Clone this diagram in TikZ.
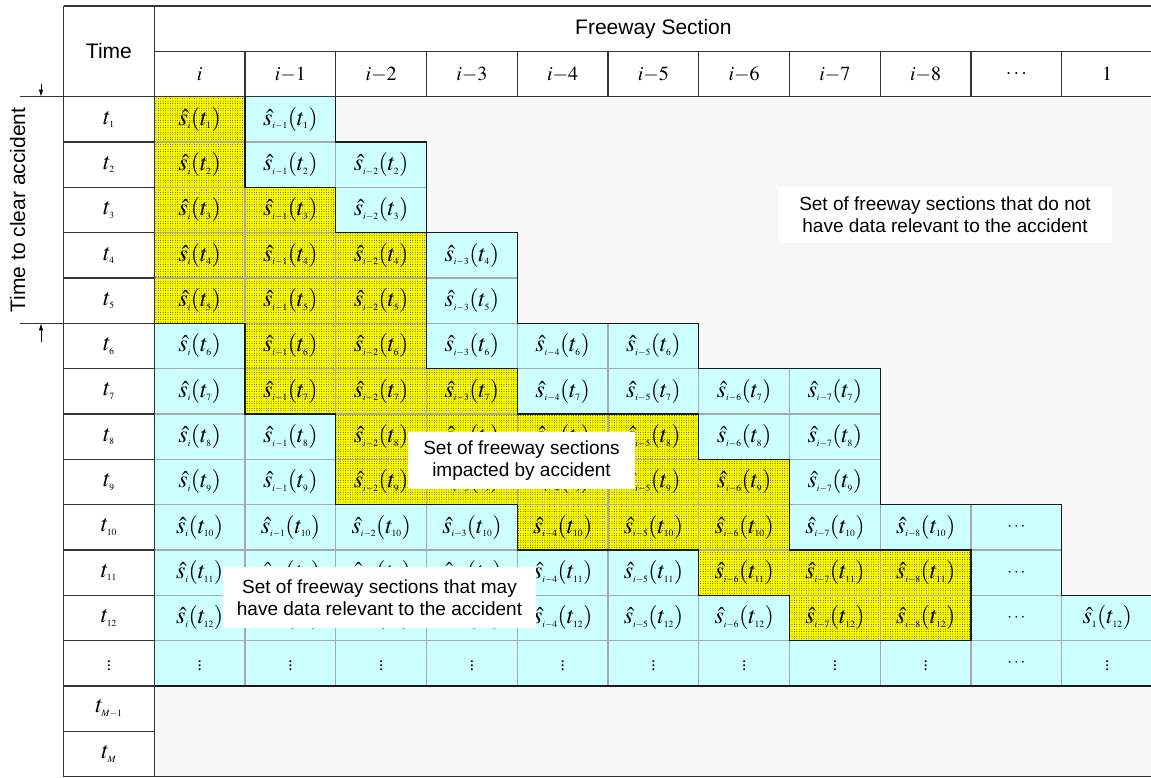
\documentclass[tikz,border=0pt]{standalone}
\usepackage{mathptmx}
\usepackage[no-math]{fontspec}
\setmainfont{Liberation Serif}
\newfontfamily\lsans{Liberation Sans}
\usetikzlibrary{patterns,arrows.meta}
\DeclareMathSizes{24}{24}{9.5}{7}
\DeclareMathSizes{20}{20}{14}{10}
\definecolor{cyanc}{HTML}{CCFFFF}
\definecolor{bgg}{HTML}{F7F7F7}
\definecolor{gridg}{HTML}{A8A8A8}
\definecolor{yel}{HTML}{FFFF00}
\pgfdeclarepatternformonly{fdots}{\pgfqpoint{-1pt}{-1pt}}{\pgfqpoint{1pt}{1pt}}{\pgfqpoint{2.4pt}{2.4pt}}{\pgfpathcircle{\pgfqpoint{0pt}{0pt}}{.42pt}\pgfusepath{fill}}
\newcommand\smalldots[1]{{\fontsize{17}{19}\selectfont$#1$}}
\newcommand\cellcontent[2]{%
  \ifnum#1=13 \ifnum#2=10 \smalldots{\cdots}\else \smalldots{\vdots}\fi
  \else
    \ifnum#2=1 $\hat{s}_i(t_{#1})$\else
    \ifnum#2=10 \smalldots{\cdots}\else
    \ifnum#2=11 $\hat{s}_1(t_{#1})$\else
    \pgfmathtruncatemacro\kk{#2-1}$\hat{s}_{i-\kk}(t_{#1})$\fi\fi\fi
  \fi}
\newcommand\mycell[3]{%
  \pgfmathsetmacro\xa{154.3+(#3-1)*90.75}%
  \pgfmathsetmacro\xb{154.3+#3*90.75}%
  \pgfmathsetmacro\ya{96.7+(#2-1)*45.32}%
  \pgfmathsetmacro\yb{96.7+#2*45.32}%
  \if#1y
    \fill[yel] (\xa,\ya) rectangle (\xb,\yb);
    \fill[pattern=fdots, pattern color=black] (\xa,\ya) rectangle (\xb,\yb);
  \else
    \fill[cyanc] (\xa,\ya) rectangle (\xb,\yb);
  \fi
  \node[mcell] (c-#2-#3) at ({(\xa+\xb)/2},{(\ya+\yb)/2}) {\cellcontent{#2}{#3}};
}
\newcommand\mygrid[2]{%
  \pgfmathsetmacro\xa{154.3+(#2-1)*90.75}%
  \pgfmathsetmacro\xb{154.3+#2*90.75}%
  \pgfmathsetmacro\ya{96.7+(#1-1)*45.32}%
  \pgfmathsetmacro\yb{96.7+#1*45.32}%
  \draw[gridl] (\xa,\ya) rectangle (\xb,\yb);
}
\begin{document}
\begin{tikzpicture}[x=1pt,y=-1pt,
  frame/.style={line width=1.3pt, draw=black!80},
  bnd/.style={line width=1.3pt, draw=black!90, line join=miter},
  gridl/.style={line width=1.2pt, draw=gridg},
  mcell/.style={inner sep=0pt, font=\fontsize{24}{28}\selectfont},
  tcell/.style={inner sep=0pt, font=\fontsize{24}{28}\selectfont},
  hcell/.style={inner sep=0pt, font=\fontsize{20}{24}\selectfont},
  sans/.style={inner sep=0pt, font=\lsans\fontsize{21}{25}\selectfont},
  lab/.style={fill=white, inner sep=0pt, align=center, font=\lsans\fontsize{19}{22.4}\selectfont},
  arr/.style={-{Latex[length=7pt,width=4.5pt]}, line width=0.9pt}
]
\useasboundingbox (0,0) rectangle (1151,778);
\fill[white] (0,0) rectangle (1151,778);
% coordinates of grid
\foreach \i in {0,...,11} \foreach \j in {0,...,15}
  \coordinate (p\i-\j) at ({154.3+\i*90.75},{96.7+\j*45.32});
% gray background
\fill[bgg] (p0-0) rectangle (p11-15);
% cells
\foreach \tp [count=\c] in {y,c} {\mycell{\tp}{1}{\c}}
\foreach \tp [count=\c] in {y,c,c} {\mycell{\tp}{2}{\c}}
\foreach \tp [count=\c] in {y,y,c} {\mycell{\tp}{3}{\c}}
\foreach \tp [count=\c] in {y,y,y,c} {\mycell{\tp}{4}{\c}}
\foreach \tp [count=\c] in {y,y,y,c} {\mycell{\tp}{5}{\c}}
\foreach \tp [count=\c] in {c,y,y,c,c,c} {\mycell{\tp}{6}{\c}}
\foreach \tp [count=\c] in {c,y,y,y,c,c,c,c} {\mycell{\tp}{7}{\c}}
\foreach \tp [count=\c] in {c,c,y,y,y,y,c,c} {\mycell{\tp}{8}{\c}}
\foreach \tp [count=\c] in {c,c,y,y,y,y,y,c} {\mycell{\tp}{9}{\c}}
\foreach \tp [count=\c] in {c,c,c,c,y,y,y,c,c,c} {\mycell{\tp}{10}{\c}}
\foreach \tp [count=\c] in {c,c,c,c,c,c,y,y,y,c} {\mycell{\tp}{11}{\c}}
\foreach \tp [count=\c] in {c,c,c,c,c,c,c,y,y,c,c} {\mycell{\tp}{12}{\c}}
\foreach \tp [count=\c] in {c,c,c,c,c,c,c,c,c,c,c} {\mycell{\tp}{13}{\c}}
% inner grid
\foreach \r/\n in {1/2,2/3,3/3,4/4,5/4,6/6,7/8,8/8,9/8,10/10,11/10,12/11,13/11}
  \foreach \c in {1,...,\n} {\mygrid{\r}{\c}}
% region boundaries
\draw[bnd] (p0-0)--(p1-0)--(p1-2)--(p2-2)--(p2-3)--(p3-3)--(p3-6)--(p4-6)--(p4-7)--(p6-7)--(p6-8)--(p7-8)--(p7-10)--(p9-10)--(p9-12)--(p7-12)--(p7-11)--(p6-11)--(p6-10)--(p4-10)--(p4-9)--(p2-9)--(p2-7)--(p1-7)--(p1-5)--(p0-5)--cycle;
\draw[bnd] (p2-0)--(p2-1)--(p3-1)--(p3-3)--(p4-3)--(p4-5)--(p6-5)--(p6-6)--(p8-6)--(p8-9)--(p10-9)--(p10-11)--(p11-11)--(p11-13)--(p0-13);
% time column
\foreach \j in {1,...,14} \draw[frame] (63.5,{96.7+\j*45.32}) -- (p0-\j);
\foreach \r in {1,...,12}
  \node[tcell] (t-\r) at (108.9,{96.7+(\r-0.5)*45.32}) {$t_{\r}$};
\node[tcell] (t-13) at (108.9,{96.7+12.5*45.32}) {\smalldots{\vdots}};
\node[tcell] (t-14) at (108.9,{96.7+13.5*45.32}) {$t_{M-1}$};
\node[tcell] (t-15) at (108.9,{96.7+14.5*45.32}) {$t_{M}$};
% frame and header
\draw[frame] (63.5,6) -- (1152.55,6);
\draw[frame] (154.3,51.7) -- (1152.55,51.7);
\draw[frame] (20,96.7) -- (1152.55,96.7);
\draw[frame] (20,323.3) -- (63.5,323.3);
\draw[frame] (63.5,6) -- (63.5,776.5) -- (1152.55,776.5);
\draw[frame] (154.3,6) -- (154.3,776.5);
\foreach \i in {1,...,10} \draw[frame] ({154.3+\i*90.75},51.7) -- (p\i-0);
\node[sans] (time) at (108.9,51.35) {Time};
\node[sans] (fs) at (653.4,28.85) {Freeway Section};
\foreach \c/\lab in {1/i,2/i{-}1,3/i{-}2,4/i{-}3,5/i{-}4,6/i{-}5,7/i{-}6,8/i{-}7,9/i{-}8,10/\cdots,11/1}
  \node[hcell] (h-\c) at ({154.3+(\c-0.5)*90.75},74.2) {$\lab$};
% left annotation
\coordinate (a1s) at (41,84);
\coordinate (a1e) at (41,96.7);
\coordinate (a2s) at (41,342);
\coordinate (a2e) at (41,323.3);
\draw[arr] (a1s) -- (a1e);
\draw[arr] (a2s) -- (a2e);
\node[sans, rotate=90] (tca) at (17.5,210) {Time to clear accident};
% labels
\node[lab, minimum width=334pt, minimum height=56pt] (l1) at (945,215)
  {Set of freeway sections that do not\\have data relevant to the accident};
\node[lab, minimum width=227pt, minimum height=57pt] (l2) at (521.5,460.5)
  {Set of freeway sections\\impacted by accident};
\node[lab, minimum width=313pt, minimum height=61pt] (l3) at (379.5,597.5)
  {Set of freeway sections that may\\have data relevant to the accident};
\end{tikzpicture}
\end{document}
